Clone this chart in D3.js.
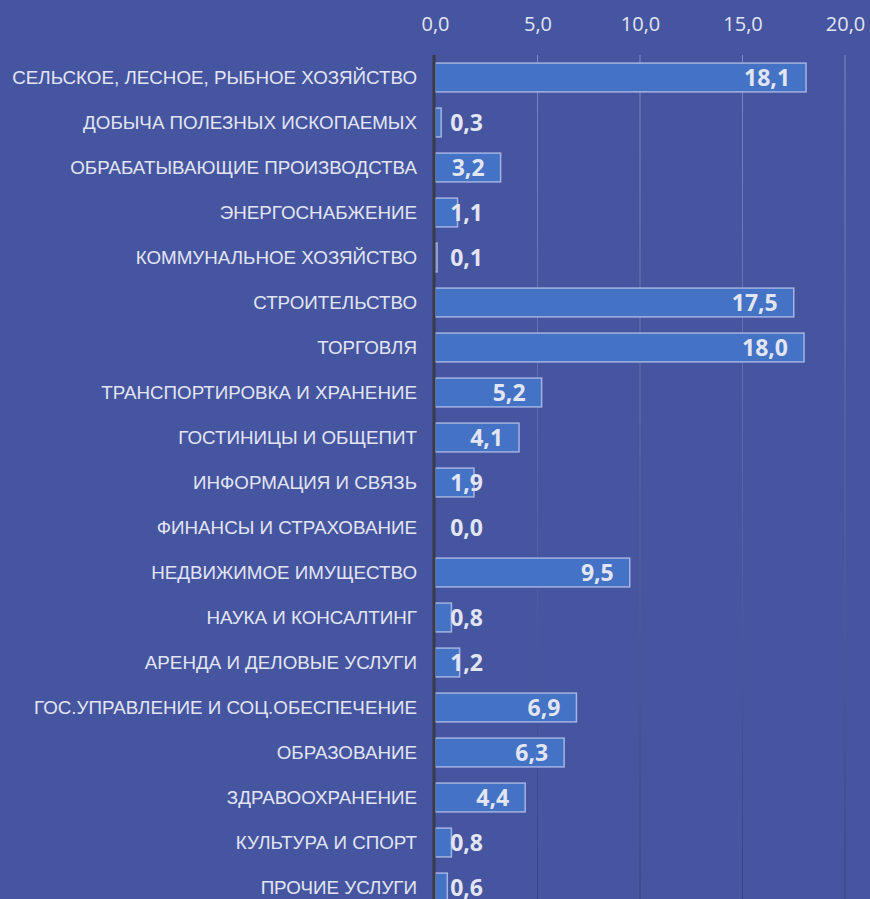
<!DOCTYPE html>
<html>
<head>
<meta charset="utf-8">
<script src="https://cdn.jsdelivr.net/npm/d3@7"></script>
<style>
  html, body { margin: 0; padding: 0; background: #4655a0; }
  svg { display: block; }
</style>
</head>
<body>
<div id="chart"></div>
<script>
// Categories and values
const categories = [
    'СЕЛЬСКОЕ, ЛЕСНОЕ, РЫБНОЕ ХОЗЯЙСТВО',
    'ДОБЫЧА ПОЛЕЗНЫХ ИСКОПАЕМЫХ',
    'ОБРАБАТЫВАЮЩИЕ ПРОИЗВОДСТВА',
    'ЭНЕРГОСНАБЖЕНИЕ',
    'КОММУНАЛЬНОЕ ХОЗЯЙСТВО',
    'СТРОИТЕЛЬСТВО',
    'ТОРГОВЛЯ',
    'ТРАНСПОРТИРОВКА И ХРАНЕНИЕ',
    'ГОСТИНИЦЫ И ОБЩЕПИТ',
    'ИНФОРМАЦИЯ И СВЯЗЬ',
    'ФИНАНСЫ И СТРАХОВАНИЕ',
    'НЕДВИЖИМОЕ ИМУЩЕСТВО',
    'НАУКА И КОНСАЛТИНГ',
    'АРЕНДА И ДЕЛОВЫЕ УСЛУГИ',
    'ГОС.УПРАВЛЕНИЕ И СОЦ.ОБЕСПЕЧЕНИЕ',
    'ОБРАЗОВАНИЕ',
    'ЗДРАВООХРАНЕНИЕ',
    'КУЛЬТУРА И СПОРТ',
    'ПРОЧИЕ УСЛУГИ'
];
const values = [18.1, 0.3, 3.2, 1.1, 0.1, 17.5, 18.0, 5.2, 4.1, 1.9, 0.0, 9.5, 0.8, 1.2, 6.9, 6.3, 4.4, 0.8, 0.6];
const xTicks = [0, 5, 10, 15, 20];

const data = categories.map((c, i) => ({ name: c, value: values[i] }));

const width = 870;
const height = 899;
const margin = { top: 55, right: 25, bottom: -11, left: 435 };

const svg = d3.select('#chart')
    .append('svg')
    .attr('width', width)
    .attr('height', height);

svg.append('rect')
    .attr('width', width)
    .attr('height', height)
    .attr('fill', '#4655a0');

// gridline gradient: lighter at the top, darker at the bottom
const defs = svg.append('defs');
const grad = defs.append('linearGradient')
    .attr('id', 'gridGrad')
    .attr('gradientUnits', 'userSpaceOnUse')
    .attr('x1', 0).attr('y1', margin.top)
    .attr('x2', 0).attr('y2', height);
grad.append('stop').attr('offset', '0%').attr('stop-color', '#7d88c0');
grad.append('stop').attr('offset', '100%').attr('stop-color', '#37427f');

const xScale = d3.scaleLinear()
    .domain([0, 20])
    .range([margin.left, 845]);

const yScale = d3.scaleBand()
    .domain(categories)
    .range([margin.top, height - margin.bottom])
    .paddingInner(0.36)
    .paddingOuter(0.18);

// Gridlines
svg.append('g')
    .selectAll('line')
    .data(xTicks.slice(1))
    .enter().append('line')
    .attr('x1', d => xScale(d))
    .attr('x2', d => xScale(d))
    .attr('y1', margin.top)
    .attr('y2', height)
    .attr('stroke', 'url(#gridGrad)')
    .attr('stroke-width', 1);

// Top axis tick labels
const xAxis = svg.append('g')
    .attr('transform', `translate(0,${margin.top - 24})`)
    .call(d3.axisTop(xScale)
        .tickValues(xTicks)
        .tickSize(0)
        .tickFormat(d => d3.format('.1f')(d).replace('.', ',')));
xAxis.select('.domain').remove();
xAxis.selectAll('text')
    .attr('y', 0)
    .attr('dy', 0)
    .attr('fill', '#e2e5f3')
    .style('font-family', '"Open Sans", sans-serif')
    .style('font-size', '20px');

// Bars
svg.append('g')
    .selectAll('rect')
    .data(data)
    .enter().append('rect')
    .attr('x', xScale(0))
    .attr('y', d => yScale(d.name))
    .attr('width', d => Math.max(0, xScale(d.value) - xScale(0)))
    .attr('height', yScale.bandwidth())
    .attr('fill', '#4472c4')
    .attr('stroke', '#a4b3e2')
    .attr('stroke-width', 1.5)
    .attr('stroke-opacity', d => d.value > 0 ? 1 : 0);

// Baseline (value axis at 0)
svg.append('line')
    .attr('x1', xScale(0) - 1)
    .attr('x2', xScale(0) - 1)
    .attr('y1', margin.top)
    .attr('y2', height)
    .attr('stroke', '#3b3b48')
    .attr('stroke-width', 3);

// Category labels
const yAxis = svg.append('g')
    .attr('transform', `translate(${margin.left - 18},0)`)
    .call(d3.axisLeft(yScale).tickSize(0).tickPadding(0));
yAxis.select('.domain').remove();
yAxis.selectAll('text')
    .attr('fill', '#e2e5f3')
    .style('font-family', '"Liberation Sans", Arial, sans-serif')
    .style('font-size', '18.8px');

// Value labels
svg.append('g')
    .selectAll('text')
    .data(data)
    .enter().append('text')
    .attr('x', d => Math.max(xScale(d.value) - 16, xScale(0) + 48))
    .attr('y', d => yScale(d.name) + yScale.bandwidth() / 2)
    .attr('dy', '0.38em')
    .attr('text-anchor', 'end')
    .attr('fill', '#e2e5f3')
    .style('font-family', '"Open Sans", sans-serif')
    .style('font-weight', 'bold')
    .style('font-size', '23px')
    .text(d => d3.format('.1f')(d.value).replace('.', ','));
</script>
</body>
</html>
